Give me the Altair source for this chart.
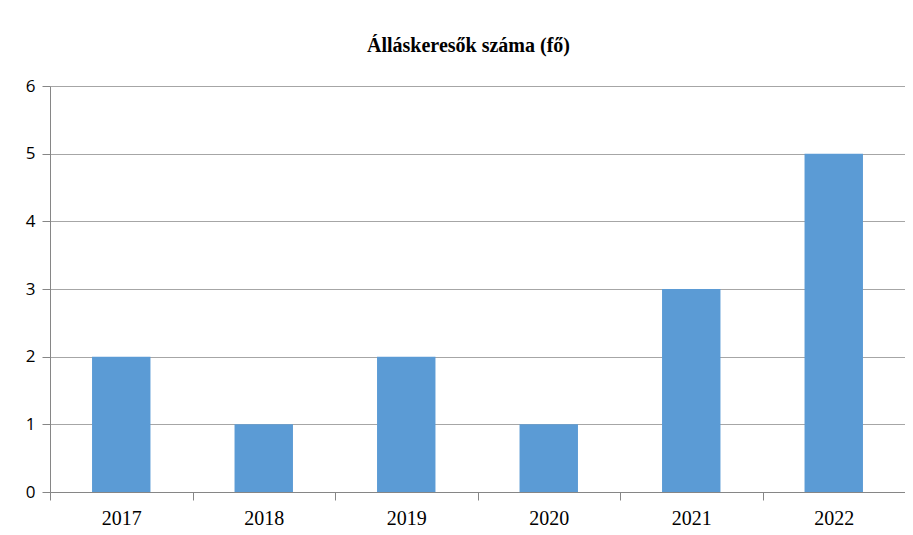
import altair as alt
import pandas as pd

years = ["2017", "2018", "2019", "2020", "2021", "2022"]
values = [2, 1, 2, 1, 3, 5]
title_text = "Álláskeresők száma (fő)"
y_ticks = [0, 1, 2, 3, 4, 5, 6]

df = pd.DataFrame({"year": years, "value": values})

chart = alt.Chart(df).mark_bar(color="#5B9BD5", width=alt.RelativeBandSize(0.41)).encode(
    x=alt.X("year:N", sort=years, title=None,
            scale=alt.Scale(paddingInner=0, paddingOuter=0),
            axis=alt.Axis(labelAngle=0, tickBand="extent", ticks=True, tickSize=8,
                          tickColor="#868686", domainColor="#868686",
                          labelFont="Liberation Serif", labelFontSize=20,
                          labelColor="#000000", labelPadding=8, grid=False)),
    y=alt.Y("value:Q", title=None,
            scale=alt.Scale(domain=[0, 6], nice=False),
            axis=alt.Axis(values=y_ticks, tickSize=8, tickColor="#868686",
                          domainColor="#868686", gridColor="#a6a6a6",
                          labelFont="Open Sans", labelFontSize=17,
                          labelColor="#000000", labelPadding=7, format="d")),
).properties(
    width=855, height=406,
    title=alt.TitleParams(title_text, font="Liberation Serif", fontSize=20,
                          fontWeight="bold", color="#000000", anchor="middle",
                          offset=21, dx=-9),
    autosize=alt.AutoSizeParams(type="none"),
    padding={"left": 42, "top": 78, "right": 0, "bottom": 35},
).configure_view(stroke=None)

chart.save("out.html", embed_options={"renderer": "svg", "actions": False})
